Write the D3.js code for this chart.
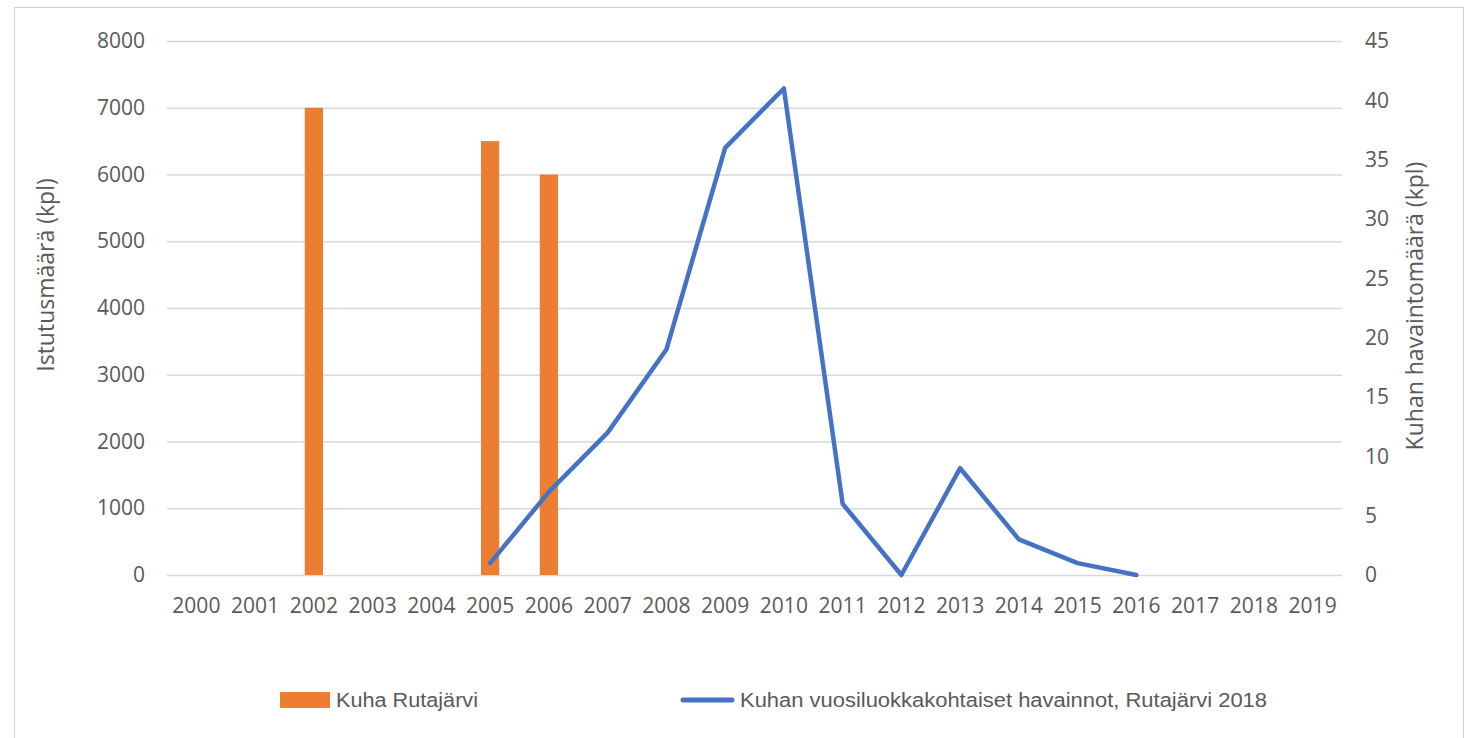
<!DOCTYPE html>
<html>
<head>
<meta charset="utf-8">
<script src="https://cdn.jsdelivr.net/npm/d3@7"></script>
<style>
  body { margin: 0; background: #fff; }
  text { font-family: "Open Sans", "Noto Sans", sans-serif; fill: #595959; }
</style>
</head>
<body>
<div id="viz-container"></div>
<script>
// years on the x axis
let years = ["2000","2001","2002","2003","2004","2005","2006","2007","2008","2009",
             "2010","2011","2012","2013","2014","2015","2016","2017","2018","2019"];
// stocked amount (bars), left axis
let stockYears = ["2002","2005","2006"];
let stockValues = [7000, 6500, 6000];
// observations per year class (line), right axis
let obsYears = ["2005","2006","2007","2008","2009","2010","2011","2012","2013","2014","2015","2016"];
let obsValues = [1, 7, 12, 19, 36, 41, 6, 0, 9, 3, 1, 0];
let leftTicks = [0,1000,2000,3000,4000,5000,6000,7000,8000];
let rightTicks = [0,5,10,15,20,25,30,35,40,45];

let w = 1468, h = 738;
let viz = d3.select("#viz-container").append("svg")
    .attr("width", w).attr("height", h);

// chart border
viz.append("rect")
    .attr("x", 14.5).attr("y", 7.5)
    .attr("width", 1449).attr("height", 740)
    .attr("fill", "none").attr("stroke", "#d0d0d0").attr("stroke-width", 1);

let plotL = 167, plotR = 1342, plotT = 41, plotB = 575;

let xScale = d3.scaleBand().domain(years).range([plotL, plotR]).paddingInner(0.69).paddingOuter(0.345);
let yLeft = d3.scaleLinear().domain([0, 8000]).range([plotB, plotT]);
let yRight = d3.scaleLinear().domain([0, 45]).range([plotB, plotT]);

// gridlines
viz.append("g").selectAll("line").data(leftTicks).enter()
    .append("line")
    .attr("x1", plotL).attr("x2", plotR)
    .attr("y1", d => yLeft(d) + 0.5).attr("y2", d => yLeft(d) + 0.5)
    .attr("stroke", "#d9d9d9").attr("stroke-width", 1.5);

// left axis
let yAxisL = d3.axisLeft(yLeft).tickValues(leftTicks).tickFormat(d3.format("d")).tickSize(0).tickPadding(22);
let gL = viz.append("g").attr("transform", "translate(" + plotL + ",0)").call(yAxisL);
gL.select(".domain").remove();
gL.selectAll("text").style("font-size", "21px").attr("fill", "#595959");

// right axis
let yAxisR = d3.axisRight(yRight).tickValues(rightTicks).tickSize(0).tickPadding(23);
let gR = viz.append("g").attr("transform", "translate(" + plotR + ",0)").call(yAxisR);
gR.select(".domain").remove();
gR.selectAll("text").style("font-size", "21px").attr("fill", "#595959");

// x axis
let xAxis = d3.axisBottom(xScale).tickSize(0).tickPadding(23);
let gX = viz.append("g").attr("transform", "translate(0," + plotB + ")").call(xAxis);
gX.select(".domain").remove();
gX.selectAll("text").style("font-size", "21px").attr("fill", "#595959");

// bars
viz.append("g").selectAll("rect").data(stockYears).enter()
    .append("rect")
    .attr("x", d => xScale(d))
    .attr("width", xScale.bandwidth())
    .attr("y", (d, i) => yLeft(stockValues[i]))
    .attr("height", (d, i) => yLeft(0) - yLeft(stockValues[i]))
    .attr("fill", "#ed7d31");

// line
let lineData = obsYears.map((y, i) => ({year: y, value: obsValues[i]}));
let lineGenerator = d3.line()
    .x(d => xScale(d.year) + xScale.bandwidth() / 2)
    .y(d => yRight(d.value));
viz.append("path")
    .datum(lineData)
    .attr("fill", "none")
    .attr("stroke", "#4472c4")
    .attr("stroke-width", 4.5)
    .attr("stroke-linecap", "round")
    .attr("stroke-linejoin", "round")
    .attr("d", lineGenerator);

// axis titles
viz.append("text")
    .attr("transform", "translate(54,275) rotate(-90)")
    .attr("text-anchor", "middle")
    .style("font-size", "23px")
    .text("Istutusmäärä (kpl)");
viz.append("text")
    .attr("transform", "translate(1423,306) rotate(-90)")
    .attr("text-anchor", "middle")
    .style("font-size", "23px")
    .text("Kuhan havaintomäärä (kpl)");

// legend
let legend = viz.append("g");
legend.append("rect")
    .attr("x", 280).attr("y", 692).attr("width", 50).attr("height", 16)
    .attr("fill", "#ed7d31");
legend.append("text")
    .attr("x", 336).attr("y", 707)
    .style("font-family", "'Liberation Sans Narrow', 'Liberation Sans', sans-serif")
    .style("font-size", "20px")
    .attr("textLength", 142).attr("lengthAdjust", "spacingAndGlyphs")
    .text("Kuha Rutajärvi");
legend.append("line")
    .attr("x1", 683).attr("x2", 732).attr("y1", 700).attr("y2", 700)
    .attr("stroke", "#4472c4").attr("stroke-width", 5).attr("stroke-linecap", "round");
legend.append("text")
    .attr("x", 740).attr("y", 707)
    .style("font-family", "'Liberation Sans Narrow', 'Liberation Sans', sans-serif")
    .style("font-size", "20px")
    .attr("textLength", 527).attr("lengthAdjust", "spacingAndGlyphs")
    .text("Kuhan vuosiluokkakohtaiset havainnot, Rutajärvi 2018");
</script>
</body>
</html>
